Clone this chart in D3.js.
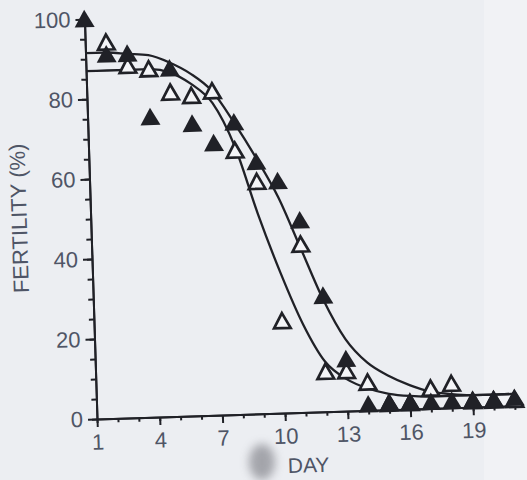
<!DOCTYPE html>
<html>
<head>
<meta charset="utf-8">
<script src="https://cdn.jsdelivr.net/npm/d3@7"></script>
<style>
	body { margin: 0; background: #eceef2; }
	svg { display: block; }
	text { font-family: "Liberation Sans", Arial, sans-serif; }
</style>
</head>
<body>
<div id="chart"></div>
<script>
// values
var filledDays = [1, 2, 3, 4, 5, 6, 7, 8, 9, 10, 11, 12, 13, 14, 15, 16, 17, 18, 19, 20, 21];
var filledFertility = [100, 91, 91, 75, 87, 73, 68, 73, 63, 58, 48, 29, 13, 1.5, 1.8, 1.8, 1.6, 1.7, 1.8, 1.8, 2];

var openDays = [2, 3, 4, 5, 6, 7, 8, 9, 10, 11, 12, 13, 14, 15, 16, 17, 18, 19, 20, 21];
var openFertility = [94, 88, 87, 81, 80, 81, 66, 58, 23, 42, 10, 10, 7, 1.5, 1.5, 5, 6, 1.5, 1.5, 1.5];

// fitted curves, read at each day
var fitDays = [1, 2, 3, 4, 5, 6, 7, 8, 9, 10, 11, 12, 13, 14, 15, 16, 17, 18, 19, 20, 21];
var filledFit = [91.5, 91.5, 91, 90.5, 88.5, 85.5, 81, 73, 64, 54, 41, 28, 18, 12, 8.5, 6, 4.2, 3.4, 3, 3, 3];
var openFit = [87, 87, 87, 87, 86, 83, 78, 67, 50, 35, 22, 12.5, 8, 5.5, 4, 3.3, 3, 3, 3, 3, 3];

var xTicks = [1, 4, 7, 10, 13, 16, 19];
var yTicks = [0, 20, 40, 60, 80, 100];

var width = 527, height = 480;
var ink = "#202127", label = "#4f5566";

var x = d3.scaleLinear().domain([1, 21.3]).range([97, 521.3]);
var y = d3.scaleLinear().domain([0, 100]).range([419, 19]);

var svg = d3.select("#chart").append("svg")
	.attr("width", width)
	.attr("height", height);

svg.append("rect").attr("width", width).attr("height", height).attr("fill", "#eceef2");
svg.append("rect").attr("x", 484).attr("width", width - 484).attr("height", height).attr("fill", "#f1f2f5");

// smudge on the scan
var defs = svg.append("defs");
defs.append("filter").attr("id", "blur")
	.attr("x", "-100%").attr("y", "-100%")
	.attr("width", "300%").attr("height", "300%")
	.append("feGaussianBlur").attr("stdDeviation", 5);
svg.append("ellipse")
	.attr("cx", 262).attr("cy", 462).attr("rx", 13).attr("ry", 18)
	.attr("fill", "#85868d").attr("opacity", 0.7)
	.attr("filter", "url(#blur)");

// the page is scanned a little crooked
var g = svg.append("g").attr("transform", "rotate(-1.8,97,419)");

// minor ticks
g.append("g")
	.attr("transform", "translate(0,419)")
	.call(d3.axisBottom(x).tickValues(d3.range(1, 22)).tickSize(4).tickSizeOuter(0).tickFormat(""));
g.append("g")
	.attr("transform", "translate(97,0)")
	.call(d3.axisLeft(y).tickValues(d3.range(0, 101, 5)).tickSize(5).tickSizeOuter(0).tickFormat(""));

var xAxis = g.append("g")
	.attr("transform", "translate(0,419)")
	.call(d3.axisBottom(x).tickValues(xTicks).tickSize(8).tickSizeOuter(0).tickPadding(7));
var yAxis = g.append("g")
	.attr("transform", "translate(97,0)")
	.call(d3.axisLeft(y).tickValues(yTicks).tickSize(9).tickSizeOuter(0).tickPadding(5));

g.selectAll(".domain, .tick line")
	.attr("stroke", ink)
	.attr("stroke-width", 2);
g.selectAll(".tick text")
	.attr("fill", label)
	.style("font-size", "22px");

// fitted curves
var line = d3.line()
	.x(function (d, i) { return x(fitDays[i]); })
	.y(function (d) { return y(d); })
	.curve(d3.curveMonotoneX);

[filledFit, openFit].forEach(function (fit) {
	g.append("path")
		.attr("d", line(fit))
		.attr("fill", "none")
		.attr("stroke", ink)
		.attr("stroke-width", 2.3);
});

// markers
function tri(w, top, bottom) {
	return "M0," + (-top) + "L" + w + "," + bottom + "L" + (-w) + "," + bottom + "Z";
}

g.selectAll(".open")
	.data(openFertility)
	.enter()
	.append("path")
	.attr("class", "open")
	.attr("transform", function (d, i) {
		return "translate(" + x(openDays[i]) + "," + y(d) + ")";
	})
	.attr("d", tri(8.3, 8, 7))
	.attr("fill", "#f4f5f8")
	.attr("stroke", ink)
	.attr("stroke-width", 2.7)
	.attr("stroke-linejoin", "miter");

g.selectAll(".filled")
	.data(filledFertility)
	.enter()
	.append("path")
	.attr("class", "filled")
	.attr("transform", function (d, i) {
		return "translate(" + x(filledDays[i]) + "," + y(d) + ")";
	})
	.attr("d", tri(10, 9.5, 8))
	.attr("fill", ink);

// axis titles
g.append("text")
	.attr("transform", "translate(33,216) rotate(-90)")
	.attr("text-anchor", "middle")
	.attr("fill", label)
	.style("font-size", "22px")
	.text("FERTILITY (%)");

g.append("text")
	.attr("x", 307)
	.attr("y", 479)
	.attr("text-anchor", "middle")
	.attr("fill", label)
	.style("font-size", "21px")
	.text("DAY");
</script>
</body>
</html>
